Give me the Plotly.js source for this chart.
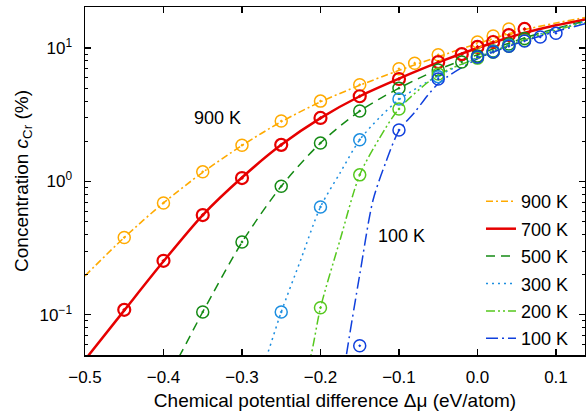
<!DOCTYPE html>
<html>
<head>
<meta charset="utf-8">
<script src="https://cdn.plot.ly/plotly-3.0.1.min.js"></script>
<style>html,body{margin:0;padding:0;background:#fff;}#chart{width:586px;height:415px;}</style>
</head>
<body>
<div id="chart"></div>
<script>
// ---- data ----
const seriesNames = ["900 K", "700 K", "500 K", "300 K", "200 K", "100 K"];

// model curves (lines)
const line900x = [-0.5, -0.45, -0.4, -0.35, -0.3, -0.25, -0.2, -0.15, -0.1, -0.05, 0, 0.05, 0.1, 0.137];
const line900y = [0.196, 0.38, 0.69, 1.17, 1.86, 2.8, 3.95, 5.25, 6.8, 8.6, 10.8, 13.3, 15.4, 16.9];
const line700x = [-0.5, -0.45, -0.4, -0.35, -0.3, -0.25, -0.2, -0.15, -0.1, -0.05, 0, 0.05, 0.1, 0.137];
const line700y = [0.046, 0.108, 0.252, 0.56, 1.07, 1.88, 2.98, 4.35, 5.9, 7.8, 10.0, 12.5, 14.8, 16.4];
const line500x = [-0.4, -0.379, -0.35, -0.3, -0.25, -0.2, -0.15, -0.1, -0.05, 0, 0.05, 0.1, 0.137];
const line500y = [0.031, 0.05, 0.105, 0.35, 0.92, 1.94, 3.37, 5.0, 6.9, 8.9, 11.4, 14.0, 15.9];
const line300x = [-0.3, -0.268, -0.25, -0.225, -0.2, -0.175, -0.15, -0.125, -0.1, -0.05, 0, 0.05, 0.1, 0.137];
const line300y = [0.015, 0.05, 0.105, 0.26, 0.644, 1.16, 2.05, 3.0, 4.1, 6.2, 8.5, 11.2, 13.8, 15.8];
const line200x = [-0.225, -0.212, -0.2, -0.175, -0.15, -0.125, -0.1, -0.05, 0, 0.05, 0.1, 0.137];
const line200y = [0.028, 0.05, 0.113, 0.365, 1.12, 2.1, 3.5, 6.3, 8.4, 11.0, 13.6, 15.5];
const line100x = [-0.175, -0.167, -0.15, -0.133, -0.117, -0.1, -0.08, -0.05, 0, 0.05, 0.1, 0.137];
const line100y = [0.024, 0.05, 0.2, 0.726, 1.38, 2.4, 3.3, 5.4, 8.3, 10.8, 13.3, 15.2];

// simulation points (markers)
const pts900x = [-0.45, -0.4, -0.35, -0.3, -0.25, -0.2, -0.15, -0.1, -0.08, -0.05, 0, 0.02, 0.04];
const pts900y = [0.38, 0.69, 1.18, 1.87, 2.84, 4.0, 5.3, 7.0, 7.7, 8.9, 11.1, 12.3, 13.9];
const pts700x = [-0.45, -0.4, -0.35, -0.3, -0.25, -0.2, -0.15, -0.1, -0.05, -0.02, 0, 0.02, 0.04, 0.06];
const pts700y = [0.109, 0.254, 0.56, 1.06, 1.88, 2.99, 4.35, 5.86, 7.85, 9.0, 10.2, 11.1, 12.5, 13.9];
const pts500x = [-0.35, -0.3, -0.25, -0.2, -0.15, -0.1, -0.05, -0.02, 0, 0.02, 0.04, 0.06];
const pts500y = [0.105, 0.352, 0.92, 1.94, 3.37, 5.0, 6.84, 7.85, 8.71, 9.5, 10.7, 11.8];
const pts300x = [-0.25, -0.2, -0.15, -0.1, -0.05, 0, 0.02, 0.04];
const pts300y = [0.105, 0.644, 2.05, 4.15, 6.1, 8.5, 9.4, 10.5];
const pts200x = [-0.2, -0.15, -0.1, -0.05, 0, 0.02, 0.04, 0.06];
const pts200y = [0.113, 1.12, 3.49, 6.38, 8.4, 9.3, 10.3, 11.4];
const pts100x = [-0.15, -0.1, -0.05, 0, 0.02, 0.04, 0.06, 0.08, 0.1];
const pts100y = [0.0586, 2.43, 5.86, 8.57, 9.33, 10.3, 11.3, 12.1, 12.9];

const yTickVals = [0.1, 1, 10];
const yTickText = ["10<sup>\u22121</sup>", "10<sup>0</sup>", "10<sup>1</sup>"];
const yMinorVals = [0.05, 0.06, 0.07, 0.08, 0.09, 0.2, 0.3, 0.4, 0.5, 0.6, 0.7, 0.8, 0.9, 2, 3, 4, 5, 6, 7, 8, 9, 20];

// ---- styling ----
const colors = ["#FFAA00", "#E60000", "#148A14", "#1C8EE0", "#55C81E", "#1040DD"];
const dashes = ["7px,3px,2px,3px", "solid", "9px,6px", "2px,4px", "9px,3px,2px,3px,2px,3px", "12px,4px,2px,4px"];
const widths = [1.6, 2.5, 1.5, 1.5, 1.5, 1.5];
const linesX = [line900x, line700x, line500x, line300x, line200x, line100x];
const linesY = [line900y, line700y, line500y, line300y, line200y, line100y];
const ptsX = [pts900x, pts700x, pts500x, pts300x, pts200x, pts100x];
const ptsY = [pts900y, pts700y, pts500y, pts300y, pts200y, pts100y];

const traces = [];
for (let i = 0; i < seriesNames.length; i++) {
  traces.push({
    x: linesX[i], y: linesY[i], type: "scatter", mode: "lines",
    name: seriesNames[i], legendgroup: "g" + i,
    line: {color: colors[i], width: widths[i], dash: dashes[i], shape: "spline", smoothing: 0.8},
    hoverinfo: "skip"
  });
}
for (let i = 0; i < seriesNames.length; i++) {
  traces.push({
    x: ptsX[i], y: ptsY[i], type: "scatter", mode: "markers",
    showlegend: false,
    marker: {symbol: "circle-open-dot", size: 12, color: colors[i], line: {color: colors[i], width: i === 1 ? 2.2 : 1.5}},
    hoverinfo: "skip"
  });
}

const font = {family: "Liberation Sans, Arial, sans-serif", color: "#000"};
const layout = {
  width: 586, height: 415,
  margin: {l: 85, r: 1, t: 7, b: 60},
  paper_bgcolor: "#fff", plot_bgcolor: "#fff",
  font: Object.assign({size: 17}, font),
  showlegend: true,
  legend: {
    x: 0.792, y: 0.494, xanchor: "left", yanchor: "top",
    bgcolor: "rgba(0,0,0,0)", borderwidth: 0,
    font: Object.assign({size: 18}, font),
    tracegroupgap: 1, itemwidth: 30
  },
  xaxis: {
    range: [-0.5, 0.137], dtick: 0.1, tick0: 0, tickformat: ".1f",
    showline: true, linecolor: "#000", linewidth: 1.5, mirror: "ticks",
    ticks: "inside", ticklen: 6, tickwidth: 1.2, tickcolor: "#000",
    showgrid: false, zeroline: false,
    tickfont: Object.assign({size: 17}, font),
    ticklabelstandoff: 6,
    title: {text: "Chemical potential difference \u0394\u03bc (eV/atom)", font: Object.assign({size: 19}, font), standoff: 8}
  },
  yaxis: {
    type: "log", range: [Math.log10(0.05), Math.log10(20.3)],
    tickmode: "array", tickvals: yTickVals, ticktext: yTickText,
    showline: true, linecolor: "#000", linewidth: 1.5, mirror: "ticks",
    ticks: "inside", ticklen: 6, tickwidth: 1.2, tickcolor: "#000",
    minor: {tickmode: "array", tickvals: yMinorVals, ticks: "inside", ticklen: 3, tickwidth: 1, tickcolor: "#000", showgrid: false},
    showgrid: false, zeroline: false,
    tickfont: Object.assign({size: 17}, font),
    ticklabelstandoff: 8,
    title: {text: "Concentration <i>c</i><sub>Cr</sub> (%)", font: Object.assign({size: 19}, font), standoff: 6}
  },
  annotations: [
    {x: -0.331, y: Math.log10(2.99), xref: "x", yref: "y", text: "900 K", showarrow: false, font: Object.assign({size: 18}, font)},
    {x: -0.097, y: Math.log10(0.39), xref: "x", yref: "y", text: "100 K", showarrow: false, font: Object.assign({size: 18}, font)}
  ]
};

Plotly.newPlot("chart", traces, layout, {displayModeBar: false, staticPlot: true});
</script>
</body>
</html>
